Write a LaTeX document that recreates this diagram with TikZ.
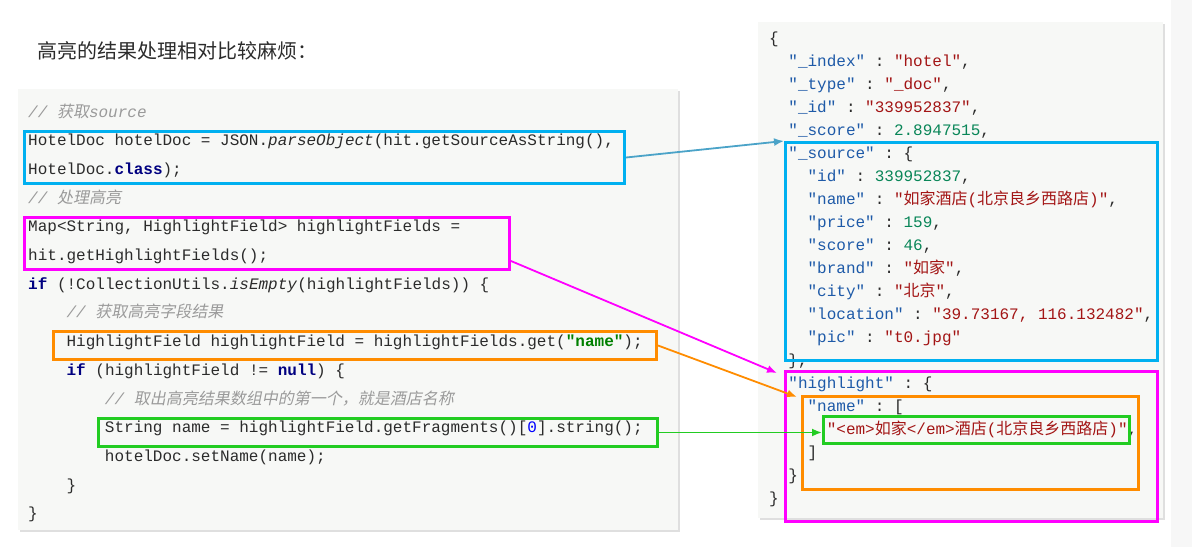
\documentclass[tikz,border=0pt]{standalone}
\usepackage{fontspec}
\setmonofont{Liberation Mono}
\newfontfamily\cjk[AutoFakeSlant=0.2]{Noto Sans CJK SC}
\usetikzlibrary{arrows.meta,shadows}

\definecolor{panelbg}{HTML}{F7F8F6}
\definecolor{codetext}{HTML}{2B2B2B}
\definecolor{cmtgray}{HTML}{9A9A9A}
\definecolor{kwnavy}{HTML}{000080}
\definecolor{strgreen}{HTML}{008000}
\definecolor{numblue}{HTML}{0000FF}
\definecolor{jkeyblue}{HTML}{1E5AA8}
\definecolor{jstrred}{HTML}{A31515}
\definecolor{jnumgreen}{HTML}{098658}
\definecolor{boxcyan}{HTML}{00B0F0}
\definecolor{boxmagenta}{HTML}{FF00FF}
\definecolor{boxorange}{HTML}{FF8C00}
\definecolor{boxgreen}{HTML}{22CC22}
\definecolor{arrowblue}{HTML}{4BA3C8}

\newcommand\kw[1]{\textcolor{kwnavy}{\bfseries #1}}
\newcommand\cmt[1]{{\color{cmtgray}\itshape // #1}}
\newcommand\strlit[1]{\textcolor{strgreen}{\bfseries #1}}
\newcommand\jkey[1]{\textcolor{jkeyblue}{#1}}
\newcommand\jstr[1]{\textcolor{jstrred}{#1}}
\newcommand\jnum[1]{\textcolor{jnumgreen}{#1}}
\newcommand\codeind{\hspace*{38.4pt}}
\newcommand\jsonind{\hspace*{19.2pt}}

\tikzset{
  code/.style={anchor=base west, inner sep=0pt, text=codetext,
    font=\ttfamily\fontsize{16}{16}\selectfont},
  hlbox/.style={draw=#1, line width=3pt, anchor=north west, inner sep=0pt},
  hlarrow/.style={draw=#1, line width=1.8pt, -{Latex[length=10pt,width=8pt]}},
  panel/.style={fill=panelbg, drop shadow={shadow xshift=2pt, shadow yshift=-2pt, opacity=0.25}}
}

\begin{document}
\begin{tikzpicture}[x=1pt,y=-1pt]

      \useasboundingbox (0,0) rectangle (1192,547);
      \fill[black!3] (1171,0) rectangle (1192,547);

      \node[anchor=west, inner sep=0pt, text=codetext, font=\cjk\fontsize{20}{24}\selectfont]
        (title) at (37,51) {高亮的结果处理相对比较麻烦：};

      \path[panel] (18,89) rectangle (678,530);
      \path[panel] (758,22) rectangle (1163,518);

      \begin{scope}[every node/.style={code}]
        \foreach \codeln [count=\i from 0] in {
          {\cmt{{\cjk 获取}source}},
          {HotelDoc hotelDoc = JSON.\textit{parseObject}(hit.getSourceAsString(),},
          {HotelDoc.\kw{class});},
          {\cmt{{\cjk 处理高亮}}},
          {Map<String, HighlightField> highlightFields =},
          {hit.getHighlightFields();},
          {\kw{if} (!CollectionUtils.\textit{isEmpty}(highlightFields)) \{},
          {\codeind\cmt{{\cjk 获取高亮字段结果}}},
          {\codeind HighlightField highlightField = highlightFields.get(\strlit{"name"});},
          {\codeind\kw{if} (highlightField != \kw{null}) \{},
          {\codeind\codeind\cmt{{\cjk 取出高亮结果数组中的第一个，就是酒店名称}}},
          {\codeind\codeind String name = highlightField.getFragments()[\textcolor{numblue}{0}].string();},
          {\codeind\codeind hotelDoc.setName(name);},
          {\codeind\}},
          {\}}}
          \node (c\i) at (28,{117+28.7*\i}) {\codeln};

        \foreach \codeln [count=\i from 0] in {
          {\{},
          {\jsonind\jkey{"\_index"} : \jstr{"hotel"},},
          {\jsonind\jkey{"\_type"} : \jstr{"\_doc"},},
          {\jsonind\jkey{"\_id"} : \jstr{"339952837"},},
          {\jsonind\jkey{"\_score"} : \jnum{2.8947515},},
          {\jsonind\jkey{"\_source"} : \{},
          {\jsonind\jsonind\jkey{"id"} : \jnum{339952837},},
          {\jsonind\jsonind\jkey{"name"} : \jstr{"{\cjk 如家酒店}({\cjk 北京良乡西路店})"},},
          {\jsonind\jsonind\jkey{"price"} : \jnum{159},},
          {\jsonind\jsonind\jkey{"score"} : \jnum{46},},
          {\jsonind\jsonind\jkey{"brand"} : \jstr{"{\cjk 如家}"},},
          {\jsonind\jsonind\jkey{"city"} : \jstr{"{\cjk 北京}"},},
          {\jsonind\jsonind\jkey{"location"} : \jstr{"39.73167, 116.132482"},},
          {\jsonind\jsonind\jkey{"pic"} : \jstr{"t0.jpg"}},
          {\jsonind\},},
          {\jsonind\jkey{"highlight"} : \{},
          {\jsonind\jsonind\jkey{"name"} : [},
          {\jsonind\jsonind\jsonind\jstr{"<em>{\cjk 如家}</em>{\cjk 酒店}({\cjk 北京良乡西路店})"},},
          {\jsonind\jsonind]},
          {\jsonind\}},
          {\}}}
          \node (j\i) at (769,{43+23*\i}) {\codeln};
      \end{scope}

      \node[hlbox=boxcyan, minimum width=600, minimum height=52] (srcbox) at (23,130) {};
      \node[hlbox=boxmagenta, minimum width=485, minimum height=52] (mapbox) at (23,216) {};
      \node[hlbox=boxorange, minimum width=603, minimum height=28] (fieldbox) at (52,330) {};
      \node[hlbox=boxgreen, minimum width=559, minimum height=28] (fragbox) at (97,417) {};
      \node[hlbox=boxcyan, minimum width=372, minimum height=218] (srcjson) at (784,141) {};
      \node[hlbox=boxmagenta, minimum width=372, minimum height=150] (hljson) at (784,370) {};
      \node[hlbox=boxorange, minimum width=336, minimum height=93] (namejson) at (801,395) {};
      \node[hlbox=boxgreen, minimum width=306, minimum height=27] (fragjson) at (822,415) {};

      \draw[hlarrow=arrowblue] (srcbox.east) -- (srcjson.north west);
      \draw[hlarrow=boxmagenta] ([yshift=10pt]mapbox.south east) -- ([shift={(-7,3)}]hljson.north west);
      \draw[hlarrow=boxorange] (fieldbox.east) -- ([shift={(-4,2)}]namejson.north west);
      \draw[hlarrow=boxgreen] (fragbox.east) -- (fragbox.east -| fragjson.west);

    \end{tikzpicture}
\end{document}
